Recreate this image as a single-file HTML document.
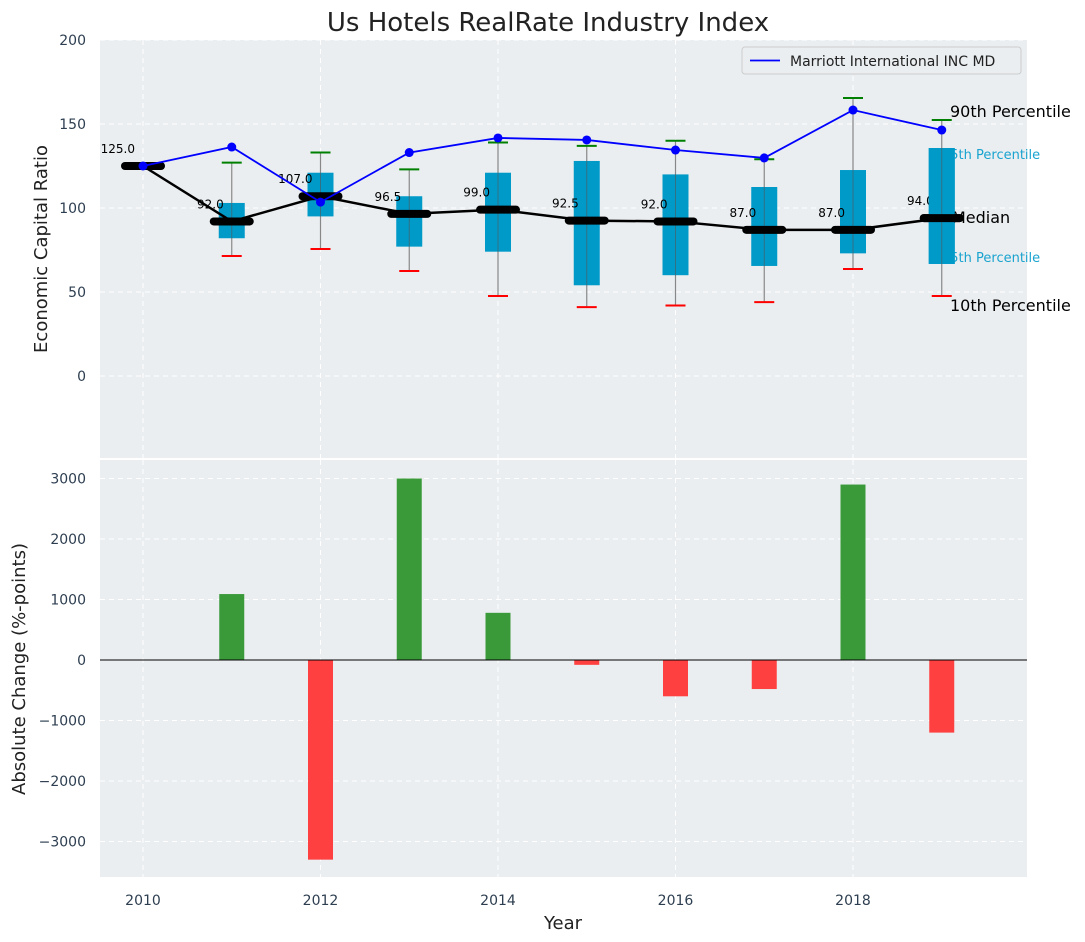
<!DOCTYPE html>
<html><head><meta charset="utf-8"><style>
body{margin:0;background:#fff;}
svg{display:block;font-family:"DejaVu Sans","Liberation Sans",sans-serif;}
</style></head><body>
<svg id="c" width="1085" height="942" xmlns="http://www.w3.org/2000/svg"></svg>
<script>
const years=[2010,2011,2012,2013,2014,2015,2016,2017,2018,2019];
const medians=[125,92,107,96.5,99,92.5,92,87,87,94];
const marriott=[125,136.3,103.5,133,141.7,140.5,134.5,129.8,158.3,146.4];
const q75=[125,103,121,107,121,128,120,112.5,122.6,135.7];
const q25=[125,82,95,77,74,54,60,65.5,73,66.7];
const p90=[125,127,133,123,139,137,140,129,165.5,152.4];
const p10=[125,71.4,75.6,62.5,47.6,41,42,44,63.7,47.6];
const changes=[0,1090,-3300,3000,780,-80,-600,-480,2900,-1200];
const topTicks=[0,50,100,150,200];
const botTicks=[-3000,-2000,-1000,0,1000,2000,3000];
const xTicks=[2010,2012,2014,2016,2018];

const svg=document.getElementById('c');
const NS='http://www.w3.org/2000/svg';
function mk(tag,attrs,parent){const e=document.createElementNS(NS,tag);for(const k in attrs)e.setAttribute(k,attrs[k]);(parent||svg).appendChild(e);return e;}
const X=y=>143+(y-2010)*88.75;
const Y1=v=>376-1.68*v;
const Y2=v=>660-0.0605*v;
const L=100,R=1027;

let e;
e=mk('rect',{x:L,y:40,width:R-L,height:418,fill:'#eaeef0'});


e=mk('rect',{x:L,y:460,width:R-L,height:417,fill:'#eaeef0'});



for(const t of xTicks){
  e=mk('line',{x1:X(t),x2:X(t),y1:40,y2:458,stroke:'#fff','stroke-dasharray':'5,4','stroke-width':1});
  
  
  e=mk('line',{x1:X(t),x2:X(t),y1:460,y2:877,stroke:'#fff','stroke-dasharray':'5,4','stroke-width':1});
  
  
  e=mk('text',{x:X(t),y:905,'text-anchor':'middle','font-size':14,fill:'#2d3e50'});
  e.textContent=t;
  
  
}
for(const t of topTicks){
  e=mk('line',{x1:L,x2:R,y1:Y1(t),y2:Y1(t),stroke:'#fff','stroke-dasharray':'5,4'});
  
  
  e=mk('text',{x:86,y:Y1(t)+5,'text-anchor':'end','font-size':14,fill:'#2d3e50'});
  e.textContent=t;
  
  
}
for(const t of botTicks){
  e=mk('line',{x1:L,x2:R,y1:Y2(t),y2:Y2(t),stroke:'#fff','stroke-dasharray':'5,4'});
  
  
  e=mk('text',{x:86,y:Y2(t)+5,'text-anchor':'end','font-size':14,fill:'#2d3e50'});
  e.textContent=(t<0?'\u2212'+(-t):t);
  
  
}

years.forEach((yr,i)=>{
  const x=X(yr);
  e=mk('line',{x1:x,x2:x,y1:Y1(p90[i]),y2:Y1(p10[i]),stroke:'#888','stroke-width':1.2});
  
  
  if(q75[i]!==q25[i]){
    e=mk('rect',{x:x-13,y:Y1(q75[i]),width:26,height:Y1(q25[i])-Y1(q75[i]),fill:'#009ac9'});
    
    
    e=mk('line',{x1:x,x2:x,y1:Y1(q75[i]),y2:Y1(q25[i]),stroke:'#555','stroke-width':1,opacity:0.6});
    
    
  }
  if(i>0){
    e=mk('line',{x1:x-10,x2:x+10,y1:Y1(p90[i]),y2:Y1(p90[i]),stroke:'green','stroke-width':2});
    
    
    e=mk('line',{x1:x-10,x2:x+10,y1:Y1(p10[i]),y2:Y1(p10[i]),stroke:'red','stroke-width':2});
    
    
  }
});
e=mk('polyline',{points:years.map((y,i)=>X(y)+','+Y1(medians[i])).join(' '),fill:'none',stroke:'#000','stroke-width':2.5});


years.forEach((yr,i)=>{
  e=mk('line',{x1:X(yr)-18,x2:X(yr)+18,y1:Y1(medians[i]),y2:Y1(medians[i]),stroke:'#000','stroke-width':8,'stroke-linecap':'round'});
  
  
  e=mk('text',{x:X(yr)-8,y:Y1(medians[i])-13,'text-anchor':'end','font-size':12,fill:'#000'});
  e.textContent=medians[i].toFixed(1);
  
  
});
e=mk('polyline',{points:years.map((y,i)=>X(y)+','+Y1(marriott[i])).join(' '),fill:'none',stroke:'#0000ff','stroke-width':1.8});


years.forEach((yr,i)=>{
  e=mk('circle',{cx:X(yr),cy:Y1(marriott[i]),r:4.5,fill:'#0000ff'});
  
  
});

const rl=[['90th Percentile',950,117,16,'#000'],['75th Percentile',942,159,13,'#1aa3cf'],['Median',952,223,16,'#000'],['25th Percentile',942,262,13,'#1aa3cf'],['10th Percentile',950,311,16,'#000']];
for(const [t,x,y,s,c] of rl){
  e=mk('text',{x:x,y:y,'font-size':s,fill:c});
  e.textContent=t;
  
  
}
e=mk('rect',{x:X(2019)-13,y:Y1(q75[9]),width:26,height:Y1(q25[9])-Y1(q75[9]),fill:'#009ac9'});


e=mk('line',{x1:X(2019),x2:X(2019),y1:Y1(q75[9]),y2:Y1(q25[9]),stroke:'#555',opacity:0.6});


e=mk('line',{x1:X(2019)-18,x2:X(2019)+18,y1:Y1(medians[9]),y2:Y1(medians[9]),stroke:'#000','stroke-width':8,'stroke-linecap':'round'});



const lg=mk('g',{});


mk('rect',{x:742,y:47,width:279,height:27,rx:3,fill:'#eaeef0',stroke:'#ccc'},lg);
mk('line',{x1:750,x2:780,y1:60.5,y2:60.5,stroke:'#0000ff','stroke-width':1.8},lg);
e=mk('text',{x:790,y:66,'font-size':14,fill:'#222'},lg);
e.textContent='Marriott International INC MD';



years.forEach((yr,i)=>{
  const v=changes[i];
  if(v===0)return;
  const y0=Y2(Math.max(v,0)),y1=Y2(Math.min(v,0));
  e=mk('rect',{x:X(yr)-12.5,y:y0,width:25,height:y1-y0,fill:v>0?'#3a9a3a':'#ff4040'});
  
  
});
e=mk('line',{x1:L,x2:R,y1:Y2(0),y2:Y2(0),stroke:'#000','stroke-width':1});



e=mk('text',{x:548,y:31,'text-anchor':'middle','font-size':26,fill:'#222'});
e.textContent='Us Hotels RealRate Industry Index';


e=mk('text',{x:0,y:0,'text-anchor':'middle','font-size':18,fill:'#222',transform:'translate(47,249) rotate(-90)'});
e.textContent='Economic Capital Ratio';


e=mk('text',{x:0,y:0,'text-anchor':'middle','font-size':18,fill:'#222',transform:'translate(25,669) rotate(-90)'});
e.textContent='Absolute Change (%-points)';


e=mk('text',{x:563,y:929,'text-anchor':'middle','font-size':18,fill:'#222'});
e.textContent='Year';


</script>
</body></html>
